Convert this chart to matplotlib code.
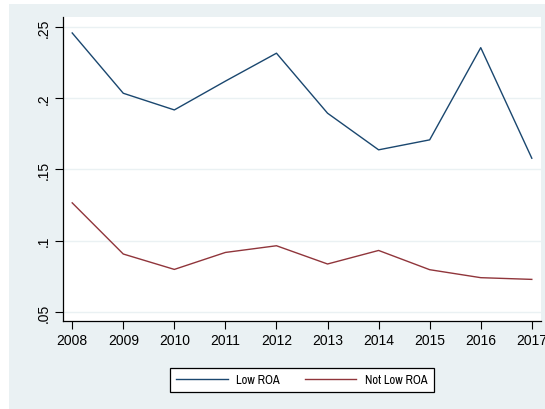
import matplotlib
matplotlib.use("Agg")
import matplotlib.pyplot as plt
from matplotlib.patches import Rectangle
from matplotlib import font_manager

years = [2008, 2009, 2010, 2011, 2012, 2013, 2014, 2015, 2016, 2017]
low_roa = [0.2458, 0.2035, 0.1918, 0.2120, 0.2316, 0.1895, 0.1638, 0.1708, 0.2355, 0.1579]
not_low_roa = [0.1266, 0.0907, 0.0799, 0.0918, 0.0965, 0.0837, 0.0932, 0.0797, 0.0741, 0.0729]
series_labels = ["Low ROA", "Not Low ROA"]
yticks = [0.05, 0.10, 0.15, 0.20, 0.25]
ytick_labels = [".05", ".1", ".15", ".2", ".25"]

BG = "#EAF1F3"
NAVY = "#1A476F"
MAROON = "#90353B"

plt.rcParams['font.family'] = ['Liberation Sans', 'DejaVu Sans']
narrow = None
for f in font_manager.fontManager.ttflist:
    if 'Narrow' in f.name:
        narrow = f.name
        break

W, H = 545, 410
fig = plt.figure(figsize=(W / 100, H / 100), dpi=100, facecolor="white")
fig.patches.append(Rectangle((9 / W, 0), 1, (H - 5) / H, transform=fig.transFigure,
                             facecolor=BG, edgecolor="none", zorder=-10))

L, R, T, B = 63, 541, 18, 322
ax = fig.add_axes([L / W, (H - B) / H, (R - L) / W, (B - T) / H])
ax.set_facecolor("white")

ax.plot(years, low_roa, color=NAVY, lw=1.0, label=series_labels[0])
ax.plot(years, not_low_roa, color=MAROON, lw=1.0, label=series_labels[1])

ax.set_xlim(2007.82, 2017.18)
ax.set_ylim(0.0437, 0.257)
ax.set_xticks(years)
ax.set_xticklabels([str(y) for y in years], fontsize=10)
ax.set_yticks(yticks)
ax.set_yticklabels(ytick_labels, fontsize=10, rotation=90, va="center")
ax.grid(axis="y", color=BG, lw=1.0)
ax.set_axisbelow(True)
for s in ["top", "right"]:
    ax.spines[s].set_visible(False)
for s in ["left", "bottom"]:
    ax.spines[s].set_color("black")
    ax.spines[s].set_linewidth(0.9)
ax.tick_params(direction="out", length=6, width=0.8, color="black", pad=3)

prop = {'size': 9}
if narrow:
    prop['family'] = narrow
lx0, lx1, ly0, ly1 = 168, 436, 368, 394
leg = fig.legend(loc="center", ncol=2, prop=prop,
                 bbox_to_anchor=((lx0 + lx1) / 2 / W, (H - (ly0 + ly1) / 2) / H),
                 frameon=True, fancybox=False, edgecolor="black", facecolor="white",
                 framealpha=1, handlelength=4.1, handletextpad=0.7, columnspacing=2.0,
                 borderpad=0.5, borderaxespad=0)
leg.get_frame().set_linewidth(0.9)

fig.savefig("out.png", dpi=100, facecolor="white")
